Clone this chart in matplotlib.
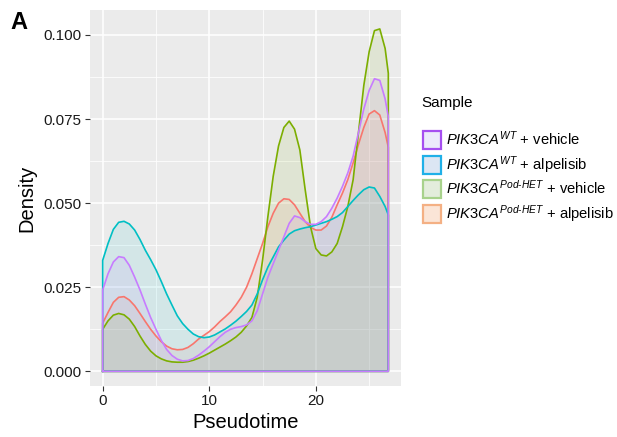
import matplotlib
matplotlib.use('Agg')
import matplotlib.pyplot as plt
from matplotlib.patches import Rectangle
from matplotlib.ticker import MultipleLocator

plt.rcParams['font.family'] = 'Liberation Sans'
plt.rcParams['mathtext.fontset'] = 'custom'
plt.rcParams['mathtext.rm'] = 'Liberation Sans'
plt.rcParams['mathtext.it'] = 'Liberation Sans:italic'

# density curves (shared pseudotime grid)
pseudotime = [0, 0.5, 1, 1.5, 2, 2.5, 3, 3.5, 4, 4.5, 5, 5.5, 6, 6.5, 7, 7.5, 8, 8.5, 9, 9.5,
              10, 10.5, 11, 11.5, 12, 12.5, 13, 13.5, 14, 14.5, 15, 15.5, 16, 16.5, 17, 17.5, 18, 18.5,
              19, 19.5, 20, 20.5, 21, 21.5, 22, 22.5, 23, 23.5, 24, 24.5, 25, 25.5, 26, 26.5, 26.8]

wt_vehicle = [0.0242, 0.029, 0.0325, 0.0341, 0.0338, 0.0315, 0.028, 0.0242, 0.0200, 0.0160,
              0.0125, 0.0092, 0.0065, 0.0047, 0.0036, 0.0031, 0.0032, 0.0038, 0.0048, 0.0060,
              0.0073, 0.0088, 0.0103, 0.0116, 0.0125, 0.0130, 0.0133, 0.0138, 0.0150, 0.0180,
              0.023, 0.028, 0.032, 0.036, 0.040, 0.044, 0.0462, 0.0457,
              0.0445, 0.0437, 0.0437, 0.0445, 0.0460, 0.0485, 0.0515, 0.055, 0.059, 0.064,
              0.071, 0.078, 0.0835, 0.087, 0.0865, 0.081, 0.0757]

wt_alpelisib = [0.033, 0.038, 0.0422, 0.0443, 0.0446, 0.0438, 0.042, 0.0392, 0.036, 0.0332,
                0.0302, 0.0267, 0.023, 0.0197, 0.0165, 0.0142, 0.0125, 0.0111, 0.0103, 0.0100,
                0.0102, 0.0108, 0.0117, 0.0126, 0.0137, 0.0149, 0.0163, 0.0178, 0.0197, 0.0230,
                0.0272, 0.031, 0.034, 0.037, 0.039, 0.0408, 0.0418, 0.0423,
                0.0427, 0.043, 0.0435, 0.044, 0.0445, 0.0452, 0.046, 0.0472, 0.049, 0.0508,
                0.0525, 0.054, 0.0548, 0.0545, 0.052, 0.049, 0.0465]

het_vehicle = [0.0125, 0.0150, 0.0167, 0.0172, 0.0168, 0.0155, 0.0133, 0.0105, 0.0080, 0.0060,
               0.0046, 0.0037, 0.0031, 0.0028, 0.0027, 0.0027, 0.0029, 0.0033, 0.0039, 0.0046,
               0.0054, 0.0063, 0.0072, 0.0081, 0.0091, 0.0102, 0.0116, 0.0135, 0.0160, 0.0220,
               0.033, 0.046, 0.058, 0.067, 0.0725, 0.0744, 0.072, 0.0658,
               0.054, 0.043, 0.0365, 0.0346, 0.0343, 0.0355, 0.038, 0.043, 0.049, 0.057,
               0.071, 0.085, 0.095, 0.1013, 0.1018, 0.096, 0.0886]

het_alpelisib = [0.0143, 0.0175, 0.0205, 0.0220, 0.0222, 0.0212, 0.0195, 0.0172, 0.0148, 0.0125,
                 0.0105, 0.0088, 0.0075, 0.0067, 0.0064, 0.0065, 0.0071, 0.0082, 0.0096, 0.0107,
                 0.0118, 0.0132, 0.0148, 0.0162, 0.0177, 0.0197, 0.0220, 0.0250, 0.0290, 0.0335,
                 0.038, 0.043, 0.047, 0.050, 0.0513, 0.0511, 0.0495, 0.047,
                 0.0445, 0.0428, 0.0420, 0.0420, 0.0432, 0.0458, 0.0495, 0.053, 0.057, 0.062,
                 0.0675, 0.0725, 0.0765, 0.0775, 0.0762, 0.071, 0.0666]

# drawing order as in ggplot (last level on top)
series = [het_alpelisib, het_vehicle, wt_alpelisib, wt_vehicle]
line_colors = ['#F8766D', '#7CAE00', '#00BFC4', '#C77CFF']

legend_labels = [r'$\mathit{PIK3CA}^{\mathit{WT}}$ + vehicle',
                 r'$\mathit{PIK3CA}^{\mathit{WT}}$ + alpelisib',
                 r'$\mathit{PIK3CA}^{\mathit{Pod\text{-}HET}}$ + vehicle',
                 r'$\mathit{PIK3CA}^{\mathit{Pod\text{-}HET}}$ + alpelisib']
legend_edges = ['#A64FF0', '#1FB0E8', '#A8D28C', '#F4B084']
legend_faces = ['#ECEAFB', '#DCE6F3', '#E3EDDC', '#FBE5D7']

W, H = 617, 437
fig = plt.figure(figsize=(W / 100, H / 100), dpi=100)
ax = fig.add_axes([90 / W, 1 - 386 / H, 311 / W, 376 / H])
ax.set_facecolor('#EBEBEB')

for ys, col in zip(series, line_colors):
    xs = [pseudotime[0]] + pseudotime + [pseudotime[-1], pseudotime[0]]
    yy = [0] + ys + [0, 0]
    ax.fill(xs, yy, facecolor=col, alpha=0.1, edgecolor='none', zorder=3)
    ax.plot(xs, yy, color=col, lw=1.2, zorder=4, solid_joinstyle='round')

ax.set_xlim(-1.19, 27.99)
ax.set_ylim(-0.00437, 0.10743)
ax.xaxis.set_major_locator(MultipleLocator(10))
ax.xaxis.set_minor_locator(MultipleLocator(5))
ax.yaxis.set_minor_locator(MultipleLocator(0.0125))
ax.set_yticks([0, 0.025, 0.05, 0.075, 0.1])
ax.set_yticklabels(['0.000', '0.025', '0.050', '0.075', '0.100'])
ax.grid(which='major', color='white', lw=1.1, zorder=0)
ax.grid(which='minor', color='white', lw=0.55, zorder=0)
ax.set_axisbelow(True)
for s in ax.spines.values():
    s.set_visible(False)
ax.tick_params(which='major', length=3.5, width=0.8, color='#333333', labelsize=11,
               labelcolor='#1a1a1a', pad=2.5)
ax.tick_params(which='minor', length=0)

ax.set_xlabel('Pseudotime', fontsize=14.5, labelpad=3)
ax.set_ylabel('Density', fontsize=14.5, labelpad=5)

fig.text(10 / W, 1 - 11 / H, 'A', fontsize=17, fontweight='bold', va='top', ha='left')

# legend drawn by hand
fig.text(421 / W, 1 - 107 / H, 'Sample', fontsize=11, va='baseline', ha='left')
row_centers = [140, 164.5, 189, 213.5]
for yc, lab, ec, fc in zip(row_centers, legend_labels, legend_edges, legend_faces):
    fig.add_artist(Rectangle((423 / W, 1 - (yc + 9) / H), 18 / W, 18 / H,
                             transform=fig.transFigure, facecolor=fc, edgecolor=ec, lw=1.6))
    fig.text(446 / W, 1 - (yc + 5) / H, lab, fontsize=10.6, va='baseline', ha='left')

fig.savefig('out.png', dpi=100)
